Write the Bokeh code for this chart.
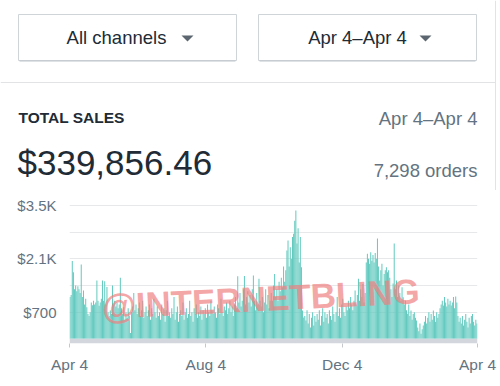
from bokeh.plotting import figure
from bokeh.models import Range1d, FixedTicker, BoxAnnotation, Label
from bokeh.layouts import column
from bokeh.core.properties import value
from bokeh.embed import file_html
from bokeh.resources import INLINE

# ---------------- data ----------------
channel_label = "All channels"
period_label = "Apr 4\u2013Apr 4"
title_label = "TOTAL SALES"
total_label = "$339,856.46"
orders_label = "7,298 orders"
watermark_label = "@INTERNETBLING"

# daily sales, Apr 4 -> Apr 3 (365 days)
sales = [
    1100, 1150, 2040, 1750, 1300, 1400, 1250, 1380, 1300, 1200,
    1950, 1100, 1270, 900, 1050, 830, 650, 600, 700, 950,
    880, 1000, 900, 950, 1530, 1000, 870, 950, 1050, 1530,
    1000, 1510, 900, 1360, 700, 600, 740, 650, 1400, 900,
    1000, 850, 950, 800, 900, 1600, 800, 650, 830, 500,
    700, 550, 800, 600, 150, 700, 850, 1200, 750, 900,
    650, 800, 950, 600, 750, 1000, 550, 700, 850, 600,
    750, 900, 500, 800, 650, 1050, 700, 550, 850, 600,
    700, 500, 900, 650, 800, 450, 750, 1000, 600, 700,
    550, 800, 650, 1100, 500, 700, 850, 450, 650, 750,
    600, 950, 500, 700, 800, 550, 650, 1000, 600, 700,
    450, 800, 650, 900, 550, 700, 600, 850, 500, 750,
    650, 800, 550, 900, 700, 600, 1000, 750, 650, 850,
    700, 550, 900, 800, 650, 1050, 700, 600, 850, 750,
    950, 650, 800, 1000, 700, 850, 600, 900, 1100, 800,
    1640, 950, 1200, 850, 1000, 1300, 1650, 900, 1100, 1250,
    950, 1150, 850, 1300, 1660, 1000, 750, 1200, 900, 1575,
    1000, 850, 1100, 700, 950, 1300, 900, 1150, 800, 1000,
    1200, 1000, 1400, 1700, 1100, 1300, 1000, 1500, 1250, 1600,
    1350, 1900, 1500, 1800, 2320, 2580, 1900, 2400, 2100, 2670,
    2760, 3100, 3370, 2500, 2900, 2000, 2670, 1880, 740, 560,
    600, 480, 750, 400, 650, 300, 550, 700, 350, 600,
    450, 650, 500, 750, 350, 600, 800, 450, 700, 550,
    650, 400, 750, 600, 500, 850, 650, 450, 700, 1100,
    600, 800, 550, 900, 1050, 700, 600, 850, 750, 1000,
    800, 1100, 900, 750, 1000, 1270, 900, 1150, 1575, 1000,
    1300, 1100, 1440, 950, 1200, 2000, 2230, 2100, 1970, 2275,
    2050, 2200, 2000, 2250, 2100, 2630, 1900, 1530, 1800, 1970,
    1400, 1700, 1800, 1880, 1750, 1800, 1600, 1300, 1100, 1450,
    2500, 1300, 1530, 1100, 1400, 1200, 1000, 1350, 1090, 900,
    1000, 750, 660, 900, 600, 740, 500, 650, 700, 550,
    480, 300, 200, 400, 130, 250, 350, 450, 600, 400,
    550, 700, 450, 650, 500, 740, 600, 450, 700, 550,
    650, 800, 900, 1000, 875, 1100, 950, 850, 1050, 900,
    1000, 875, 950, 1100, 800, 1110, 950, 600, 450, 550,
    400, 600, 350, 500, 650, 450, 300, 550, 400, 600,
    650, 450, 350, 500, 400,
]
days = [i + 0.5 for i in range(len(sales))]

tick_days = [0, 122, 244, 365]
tick_labels = ["Apr 4", "Aug 4", "Dec 4", "Apr 4"]
y_ticks = [700, 2100, 3500]
y_tick_labels = ["$700", "$2.1K", "$3.5K"]
grid_values = [700, 1400, 2100, 2800, 3500]

FONT = "Liberation Sans"
DARK = "#212b36"
GRAY = "#637381"

# ---------------- header ----------------
W = 500
HH = 190
header = figure(width=W, height=HH, x_range=Range1d(0, W), y_range=Range1d(HH, 0),
                output_backend="svg", toolbar_location=None,
                x_axis_location=None, y_axis_location=None, min_border=0)
header.outline_line_color = None
header.grid.visible = False
header.background_fill_color = "white"

# buttons
header.quad(left=[18, 258], right=[236, 476], top=[14, 14], bottom=[60, 60],
            fill_color="white", line_color="#cfd4d9", line_width=1)
header.segment(x0=[19, 259], y0=[60.5, 60.5], x1=[235, 475], y1=[60.5, 60.5],
               line_color="#bfc5cb", line_width=1)
header.text(x=[116], y=[37], text=[channel_label], text_font=value(FONT),
            text_font_size="18.5px", text_align="center", text_baseline="middle",
            text_color=DARK)
header.text(x=[357], y=[37], text=[period_label], text_font=value(FONT),
            text_font_size="18.5px", text_align="center", text_baseline="middle",
            text_color=DARK)
header.patches(xs=[[181, 193, 187], [419, 431, 425]], ys=[[35, 35, 41], [35, 35, 41]],
               fill_color="#5c6670", line_color=None)

# separator lines
header.segment(x0=[0], y0=[82], x1=[495], y1=[82], line_color="#e1e3e5", line_width=1)
header.segment(x0=[495], y0=[0], x1=[495], y1=[HH], line_color="#e1e3e5", line_width=1)

# titles
header.text(x=[18], y=[117], text=[title_label], text_font=value(FONT),
            text_font_size="15.5px", text_font_style="bold", text_align="left",
            text_baseline="middle", text_color=DARK)
header.text(x=[477], y=[118], text=[period_label], text_font=value(FONT),
            text_font_size="18.5px", text_align="right", text_baseline="middle",
            text_color=GRAY)
header.text(x=[17], y=[162], text=[total_label], text_font=value(FONT),
            text_font_size="35px", text_align="left", text_baseline="middle",
            text_color=DARK)
header.text(x=[477], y=[170], text=[orders_label], text_font=value(FONT),
            text_font_size="18.5px", text_align="right", text_baseline="middle",
            text_color=GRAY)

# ---------------- chart ----------------
chart = figure(width=W, height=196, x_range=Range1d(0, 365), y_range=Range1d(-123, 3630),
               output_backend="svg", toolbar_location=None,
               min_border_left=69, min_border_right=23, min_border_top=10,
               min_border_bottom=43)
chart.outline_line_color = None
chart.background_fill_color = "white"
chart.xgrid.visible = False
chart.ygrid.ticker = FixedTicker(ticks=grid_values)
chart.ygrid.grid_line_color = "#e6e8ea"

chart.vbar(x=days, top=sales, bottom=0, width=0.9, fill_color="#62cabf", line_color=None)

chart.add_layout(BoxAnnotation(top=0, fill_color="#d4d6dd", fill_alpha=1, line_color=None))

chart.xaxis.ticker = FixedTicker(ticks=tick_days)
chart.xaxis.major_label_overrides = {d: l for d, l in zip(tick_days, tick_labels)}
chart.xaxis.axis_line_color = None
chart.xaxis.major_tick_line_color = "#c4c8cc"
chart.xaxis.major_tick_out = 4
chart.xaxis.major_tick_in = 0
chart.xaxis.minor_tick_line_color = None
chart.xaxis.major_label_text_font = FONT
chart.xaxis.major_label_text_font_size = "15.5px"
chart.xaxis.major_label_text_color = GRAY
chart.xaxis.major_label_standoff = 8

chart.yaxis.ticker = FixedTicker(ticks=y_ticks)
chart.yaxis.major_label_overrides = {t: l for t, l in zip(y_ticks, y_tick_labels)}
chart.yaxis.axis_line_color = None
chart.yaxis.major_tick_line_color = None
chart.yaxis.minor_tick_line_color = None
chart.yaxis.major_label_text_font = FONT
chart.yaxis.major_label_text_font_size = "15px"
chart.yaxis.major_label_text_color = GRAY
chart.yaxis.major_label_standoff = 7

chart.add_layout(Label(x=171, y=1058, text=watermark_label, text_align="center",
                       text_baseline="middle", angle=0.05,
                       text_font=FONT, text_font_style="bold", text_font_size="35px",
                       text_color="#f07f7f", text_alpha=0.7))

layout = column(column(header), column(chart))
open("out.html", "w").write(file_html(layout, INLINE))
